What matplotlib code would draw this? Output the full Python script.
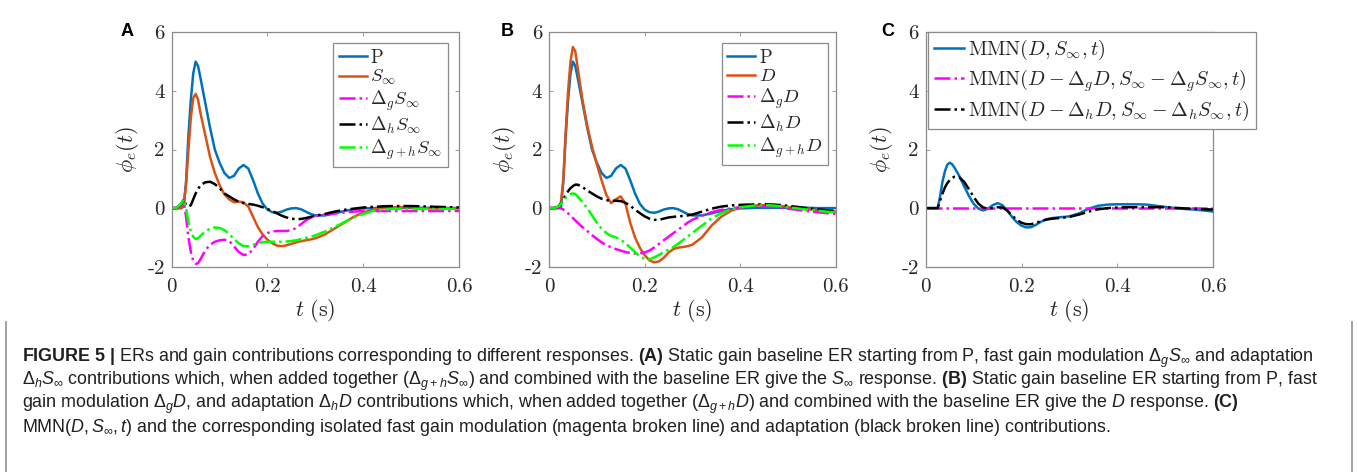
import matplotlib
matplotlib.use('Agg')
import matplotlib.pyplot as plt
from matplotlib.lines import Line2D

# ---------------- data ----------------
t = [0, 0.01, 0.02, 0.025, 0.03, 0.035, 0.04, 0.045, 0.05, 0.055, 0.06,
     0.07, 0.08, 0.09, 0.10, 0.11, 0.12, 0.13, 0.14, 0.15, 0.16, 0.17, 0.18,
     0.19, 0.20, 0.21, 0.22, 0.23, 0.24, 0.25, 0.26, 0.27, 0.28, 0.29, 0.30,
     0.32, 0.34, 0.36, 0.38, 0.40, 0.42, 0.44, 0.46, 0.48, 0.50, 0.52, 0.54,
     0.56, 0.58, 0.60]

# Panel A
P = [0, 0, 0, 0.05, 0.9, 2.5, 3.7, 4.6, 5.0, 4.85, 4.45,
     3.6, 2.75, 2.0, 1.55, 1.2, 1.03, 1.1, 1.35, 1.47, 1.35, 0.95, 0.5,
     0.15, -0.05, -0.14, -0.16, -0.12, -0.05, -0.01, 0.0, -0.04, -0.12, -0.2, -0.25,
     -0.25, -0.18, -0.1, -0.04, -0.01, 0.0, 0.01, 0.01, 0.01, 0.01, 0.01, 0.01,
     0.0, 0.0, 0.0]
S_inf = [0, 0, 0, 0.1, 0.8, 2.0, 3.1, 3.75, 3.9, 3.7, 3.25,
         2.5, 1.75, 1.2, 0.78, 0.47, 0.3, 0.2, 0.22, 0.2, 0.05, -0.3, -0.65,
         -0.9, -1.08, -1.2, -1.28, -1.3, -1.27, -1.22, -1.17, -1.13, -1.1, -1.07, -1.03,
         -0.9, -0.7, -0.5, -0.3, -0.15, -0.05, 0.0, 0.03, 0.03, 0.02, 0.0, -0.01,
         -0.01, 0.0, 0.0]
dg_S = [0, 0, 0.1, 0.25, -0.3, -1.0, -1.5, -1.8, -1.9, -1.88, -1.75,
        -1.45, -1.25, -1.15, -1.1, -1.08, -1.12, -1.3, -1.5, -1.6, -1.58, -1.4, -1.15,
        -0.95, -0.85, -0.8, -0.78, -0.78, -0.78, -0.75, -0.68, -0.55, -0.42, -0.33, -0.28,
        -0.22, -0.18, -0.15, -0.12, -0.1, -0.1, -0.1, -0.1, -0.1, -0.1, -0.1, -0.1,
        -0.1, -0.1, -0.1]
dh_S = [0, 0, 0.15, 0.3, 0.1, 0.05, 0.1, 0.3, 0.5, 0.65, 0.78,
        0.88, 0.9, 0.82, 0.68, 0.5, 0.4, 0.3, 0.22, 0.17, 0.14, 0.12, 0.08,
        0.03, -0.03, -0.1, -0.18, -0.26, -0.32, -0.36, -0.38, -0.37, -0.34, -0.3, -0.26,
        -0.2, -0.12, -0.06, -0.02, 0.02, 0.04, 0.06, 0.07, 0.07, 0.07, 0.06, 0.05,
        0.04, 0.03, 0.02]
dgh_S = [0, 0, 0.15, 0.3, 0.0, -0.5, -0.8, -0.98, -1.05, -1.03, -0.95,
         -0.8, -0.7, -0.66, -0.68, -0.75, -0.88, -1.05, -1.2, -1.3, -1.3, -1.25, -1.2,
         -1.16, -1.15, -1.15, -1.15, -1.15, -1.14, -1.12, -1.1, -1.06, -1.02, -0.98, -0.93,
         -0.8, -0.65, -0.48, -0.32, -0.2, -0.1, -0.05, -0.03, -0.03, -0.03, -0.03, -0.03,
         -0.03, -0.03, -0.03]

# Panel B
D = [0, 0, 0.05, 0.2, 1.0, 2.6, 4.0, 5.0, 5.5, 5.35, 4.8,
     3.7, 2.8, 2.1, 1.5, 0.95, 0.45, 0.17, 0.3, 0.4, 0.15, -0.5, -1.0,
     -1.35, -1.6, -1.78, -1.85, -1.82, -1.7, -1.52, -1.4, -1.35, -1.33, -1.3, -1.25,
     -1.0, -0.6, -0.3, -0.1, 0.02, 0.07, 0.1, 0.1, 0.08, 0.04, 0.0, -0.04,
     -0.07, -0.1, -0.12]
dg_D = [0, 0, 0, 0, -0.05, -0.1, -0.18, -0.26, -0.34, -0.42, -0.5,
        -0.65, -0.78, -0.92, -1.05, -1.17, -1.26, -1.34, -1.4, -1.45, -1.5, -1.53, -1.55,
        -1.55, -1.52, -1.45, -1.35, -1.22, -1.1, -0.98, -0.86, -0.74, -0.62, -0.5, -0.4,
        -0.26, -0.14, -0.06, -0.01, 0.03, 0.05, 0.06, 0.05, 0.02, -0.02, -0.06, -0.1,
        -0.14, -0.17, -0.2]
dh_D = [0, 0, 0.05, 0.15, 0.3, 0.45, 0.58, 0.68, 0.75, 0.8, 0.8,
        0.72, 0.6, 0.5, 0.4, 0.32, 0.27, 0.25, 0.25, 0.24, 0.18, 0.08, -0.05,
        -0.17, -0.28, -0.36, -0.4, -0.4, -0.36, -0.32, -0.3, -0.28, -0.27, -0.25, -0.22,
        -0.12, -0.02, 0.05, 0.09, 0.11, 0.12, 0.13, 0.13, 0.11, 0.08, 0.04, 0.0,
        -0.04, -0.07, -0.1]
dgh_D = [0, 0, 0.05, 0.15, 0.25, 0.35, 0.42, 0.48, 0.5, 0.48, 0.4,
         0.2, 0.0, -0.25, -0.5, -0.7, -0.85, -0.95, -1.0, -1.08, -1.2, -1.35, -1.5,
         -1.65, -1.73, -1.75, -1.68, -1.6, -1.5, -1.42, -1.33, -1.22, -1.1, -0.97, -0.85,
         -0.6, -0.35, -0.18, -0.05, 0.03, 0.07, 0.1, 0.1, 0.07, 0.03, -0.01, -0.05,
         -0.08, -0.12, -0.15]

# Panel C
mmn = [0, 0, 0, 0, 0.4, 0.9, 1.25, 1.48, 1.55, 1.5, 1.38,
       1.1, 0.75, 0.42, 0.15, -0.02, -0.08, -0.02, 0.1, 0.17, 0.1, -0.08, -0.3,
       -0.48, -0.6, -0.66, -0.65, -0.57, -0.47, -0.39, -0.35, -0.33, -0.31, -0.3, -0.28,
       -0.18, -0.02, 0.08, 0.12, 0.13, 0.13, 0.13, 0.12, 0.08, 0.04, 0.0, -0.03,
       -0.05, -0.08, -0.12]
mmn_g = [0.0] * 50
mmn_h = [0, 0, 0, 0, 0.25, 0.5, 0.7, 0.85, 0.95, 1.03, 1.07,
         1.05, 0.9, 0.65, 0.38, 0.15, 0.02, -0.02, 0.0, 0.03, 0.02, -0.08, -0.25,
         -0.4, -0.5, -0.55, -0.55, -0.5, -0.45, -0.4, -0.37, -0.35, -0.34, -0.32, -0.3,
         -0.22, -0.12, -0.04, 0.0, 0.02, 0.03, 0.03, 0.03, 0.03, 0.03, 0.01, -0.01,
         -0.02, -0.04, -0.05]

xticks = [0, 0.2, 0.4, 0.6]
xticklabels = ['0', '0.2', '0.4', '0.6']
yticks = [-2, 0, 2, 4, 6]
yticklabels = ['-2', '0', '2', '4', '6']

labels_A = [r'$\mathrm{P}$', r'$S_\infty$', r'$\Delta_g S_\infty$', r'$\Delta_h S_\infty$', r'$\Delta_{g+h} S_\infty$']
labels_B = [r'$\mathrm{P}$', r'$D$', r'$\Delta_g D$', r'$\Delta_h D$', r'$\Delta_{g+h} D$']
labels_C = [r'$\mathrm{MMN}(D, S_\infty, t)$',
            r'$\mathrm{MMN}(D - \Delta_g D, S_\infty - \Delta_g S_\infty, t)$',
            r'$\mathrm{MMN}(D - \Delta_h D, S_\infty - \Delta_h S_\infty, t)$']

caption = [
    r"$\mathbf{FIGURE\ 5\ |}$ ERs and gain contributions corresponding to different responses. $\mathbf{(A)}$ Static gain baseline ER starting from P, fast gain modulation $\Delta_g S_\infty$ and adaptation",
    r"$\Delta_h S_\infty$ contributions which, when added together ($\Delta_{g+h} S_\infty$) and combined with the baseline ER give the $S_\infty$ response. $\mathbf{(B)}$ Static gain baseline ER starting from P, fast",
    r"gain modulation $\Delta_g D$, and adaptation $\Delta_h D$ contributions which, when added together ($\Delta_{g+h} D$) and combined with the baseline ER give the $D$ response. $\mathbf{(C)}$",
    r"MMN($D, S_\infty, t$) and the corresponding isolated fast gain modulation (magenta broken line) and adaptation (black broken line) contributions.",
]

# ---------------- style ----------------
plt.rcParams['mathtext.fontset'] = 'cm'
plt.rcParams['mathtext.rm'] = 'Liberation Sans'
plt.rcParams['mathtext.it'] = 'Liberation Sans:italic'
plt.rcParams['mathtext.bf'] = 'Liberation Sans:bold'
plt.rcParams['font.family'] = ['Liberation Sans', 'DejaVu Sans']

BLUE = (0.0, 0.447, 0.741)
ORANGE = (0.85, 0.325, 0.098)
MAG = (1.0, 0.0, 1.0)
BLK = (0.0, 0.0, 0.0)
GRN = (0.0, 1.0, 0.0)
SPINE = '#8a8a8a'
TXT = '#262626'

W, H = 1358, 472
fig = plt.figure(figsize=(W / 100, H / 100), dpi=100)


def fx(px):
    return px / W


def fy(py):
    return 1 - py / H


axes_px = [(171.7, 459.0), (549.0, 835.7), (925.7, 1213.3)]
top_px, bot_px = 32.3, 266.7

series = [
    [(P, BLUE, '-'), (S_inf, ORANGE, '-'), (dg_S, MAG, '-.'), (dh_S, BLK, '-.'), (dgh_S, GRN, '-.')],
    [(P, BLUE, '-'), (D, ORANGE, '-'), (dg_D, MAG, '-.'), (dh_D, BLK, '-.'), (dgh_D, GRN, '-.')],
    [(mmn, BLUE, '-'), (mmn_g, MAG, '-.'), (mmn_h, BLK, '-.')],
]
leg_labels = [labels_A, labels_B, labels_C]
leg_pos = [(333, 43), (721.7, 43), (928, 31.7)]
leg_fs = [13.5, 13.5, 14.5]
leg_sp = [0.08, 0.08, 0.25]
letters = [('A', 127.5), ('B', 507.5), ('C', 887.5)]

for i, (l, r) in enumerate(axes_px):
    ax = fig.add_axes([fx(l), fy(bot_px), (r - l) / W, (bot_px - top_px) / H])
    for (y, c, ls), lab in zip(series[i], leg_labels[i]):
        ax.plot(t, y, color=c, linestyle=ls, linewidth=1.8, label=lab)
    ax.set_xlim(0, 0.6)
    ax.set_ylim(-2, 6)
    ax.set_xticks(xticks)
    ax.set_yticks(yticks)
    ax.set_xticklabels(xticklabels, fontfamily='cmr10', fontsize=15, color=TXT)
    ax.set_yticklabels(yticklabels, fontfamily='cmr10', fontsize=15, color=TXT)
    ax.tick_params(axis='x', direction='in', length=3, width=0.6, colors=SPINE,
                   labelcolor=TXT, pad=8, top=True)
    ax.tick_params(axis='y', direction='in', length=3, width=0.6, colors=SPINE,
                   labelcolor=TXT, pad=5, right=True)
    for s in ax.spines.values():
        s.set_color(SPINE)
        s.set_linewidth(0.9)
    leg = ax.legend(loc='upper left', bbox_to_anchor=(fx(leg_pos[i][0]), fy(leg_pos[i][1])),
                    bbox_transform=fig.transFigure, fontsize=leg_fs[i], frameon=True,
                    fancybox=False, edgecolor=SPINE, framealpha=1,
                    handlelength=1.5, handletextpad=0.2, labelspacing=leg_sp[i],
                    borderpad=0.3, borderaxespad=0)
    leg.get_frame().set_linewidth(0.9)
    for tx in leg.get_texts():
        tx.set_color(TXT)
    cx = (l + r) / 2
    fig.text(fx(cx), fy(311), r'$t\ (\mathrm{s})$', fontsize=16, ha='center', va='center', color=TXT)
    fig.text(fx(l - 44), fy((top_px + bot_px) / 2), r'$\phi_e(t)$', fontsize=16, rotation=90,
             ha='center', va='center', color=TXT)
    fig.text(fx(letters[i][1]), fy(31.5), letters[i][0], fontsize=13, fontweight='bold',
             ha='center', va='center', color='black')

# caption box
for xb in (6, 1352):
    fig.add_artist(Line2D([fx(xb), fx(xb)], [fy(322), fy(472)], color='#9a9a9a', lw=1.3))

for k, line in enumerate(caption):
    fig.text(fx(22), fy(358 + 23.3 * k), line, fontsize=12.9, ha='left', va='center',
             color='#231f20', math_fontfamily='custom')

fig.savefig('out.png', dpi=100, facecolor='white')
